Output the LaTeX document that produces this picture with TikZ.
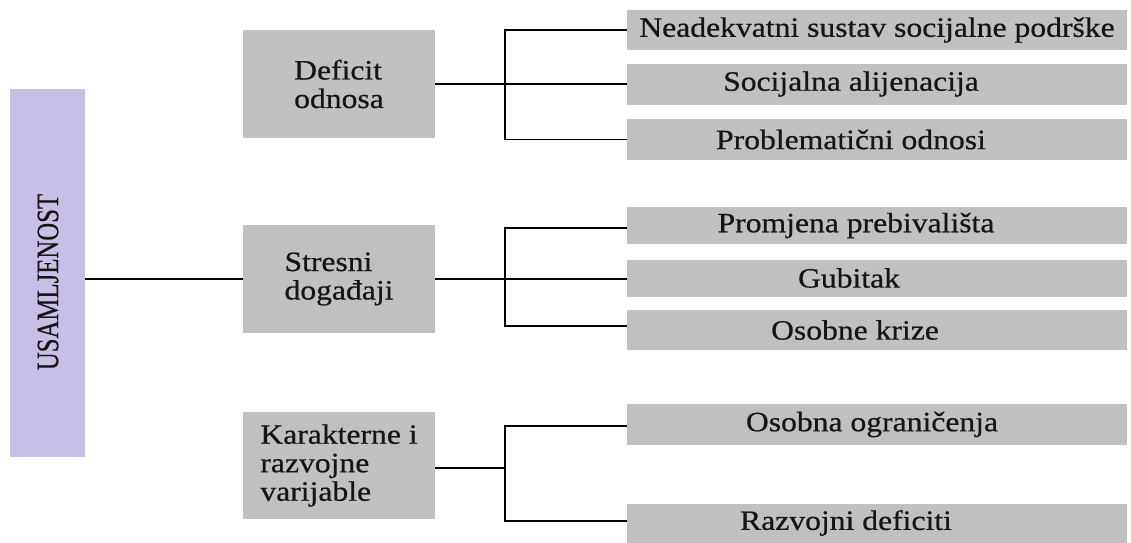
\documentclass[tikz,border=0pt]{standalone}
\usepackage{fontspec}
\setmainfont{Liberation Serif}[FakeStretch=1.13, FakeBold=0.6]
\newfontfamily\rotfont{Liberation Serif}[FakeBold=0.6]
\definecolor{boxgray}{RGB}{192,192,192}
\definecolor{boxpurple}{RGB}{199,191,230}
\definecolor{txt}{RGB}{25,20,20}
\tikzset{
  conn/.style={line width=1.3pt, black},
  lbox/.style={fill=boxgray, draw=none, minimum width=192pt, inner sep=0pt, align=left, text=txt, font=\fontsize{28}{28.5}\selectfont},
  rbox/.style={fill=boxgray, draw=none, minimum width=500pt, inner sep=0pt},
  rtext/.style={text=txt, inner sep=0pt, font=\fontsize{28}{28}\selectfont},
}
\begin{document}
\begin{tikzpicture}[x=1pt,y=-1pt]
\useasboundingbox (0,0) rectangle (1131,542);
% root
\node[fill=boxpurple, minimum width=75pt, minimum height=368pt, inner sep=0pt] (U) at (47.5,273) {};
\node[rotate=90, text=txt, inner sep=0pt] (Ut) at (48,282) {\scalebox{0.8}[1]{\rotfont\fontsize{31}{31}\selectfont USAMLJENOST}};
% middle boxes
\node[lbox, minimum height=108pt] (D) at (339,84) {Deficit\\odnosa};
\node[lbox, minimum height=108pt] (S) at (339,279) {Stresni\\događaji};
\node[lbox, minimum height=107pt] (K) at (339,465.5) {Karakterne i\\razvojne\\varijable};
% right boxes
\node[rbox, minimum height=40pt] (r1) at (877,30) {};
\node[rbox, minimum height=41pt] (r2) at (877,84) {};
\node[rbox, minimum height=41pt] (r3) at (877,139.5) {};
\node[rbox, minimum height=37pt] (r4) at (877,225.5) {};
\node[rbox, minimum height=37pt] (r5) at (877,278) {};
\node[rbox, minimum height=40pt] (r6) at (877,330) {};
\node[rbox, minimum height=41pt] (r7) at (877,424.5) {};
\node[rbox, minimum height=40pt] (r8) at (877,524) {};
\node[rtext] (t1) at (877,30) {Neadekvatni sustav socijalne podrške};
\node[rtext] (t2) at (851,84) {Socijalna alijenacija};
\node[rtext] (t3) at (851,139.5) {Problematični odnosi};
\node[rtext] (t4) at (856,225.5) {Promjena prebivališta};
\node[rtext] (t5) at (849,278) {Gubitak};
\node[rtext] (t6) at (855,330) {Osobne krize};
\node[rtext] (t7) at (872,424.5) {Osobna ograničenja};
\node[rtext] (t8) at (846,523) {Razvojni deficiti};
% junctions
\coordinate (j1) at (505,84);
\coordinate (j2) at (505,279);
\coordinate (j3) at (505,468);
% connectors
\draw[conn] (S.west) -- (S.west -| U.east);
\draw[conn] (D.east) -- (D.east -| r2.west);
\draw[conn] (r1.west) -- (r1.west -| j1) -- (r3.west -| j1) -- (r3.west);
\draw[conn] (S.east) -- (S.east -| r5.west);
\draw[conn] ([yshift=-2.5pt]r4.west) -- ([yshift=-2.5pt]r4.west -| j2) -- ([yshift=4pt]r6.west -| j2) -- ([yshift=4pt]r6.west);
\draw[conn] ([yshift=-2.5pt]K.east) -- ([yshift=-2.5pt]K.east -| j3);
\draw[conn] ([yshift=-1.5pt]r7.west) -- ([yshift=-1.5pt]r7.west -| j3) -- ([yshift=3pt]r8.west -| j3) -- ([yshift=3pt]r8.west);
\end{tikzpicture}
\end{document}
